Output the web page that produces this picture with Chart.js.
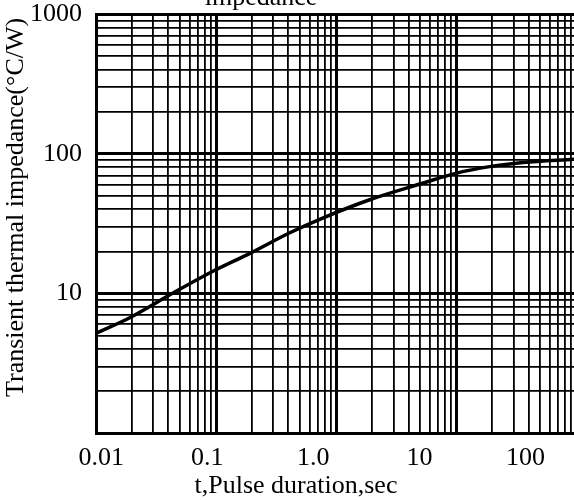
<!DOCTYPE html>
<html>
<head>
<meta charset="utf-8">
<script src="https://cdn.jsdelivr.net/npm/chart.js@4"></script>
<style>
html,body{margin:0;padding:0;background:#fff;overflow:hidden}
#wrap{position:relative;width:574px;height:500px}
</style>
</head>
<body>
<div id="wrap"><canvas id="c"></canvas></div>
<script>
// ---- data ----
const pulseDuration = [0.009, 0.0186, 0.048, 0.113, 0.25, 0.6, 1.24, 3.4, 10.9, 22.4, 46, 95, 287];
const thermalImpedance = [5.2, 6.7, 10.1, 14.4, 19.3, 27.2, 34.8, 46.9, 61.8, 72.8, 81, 86.7, 91.6];

const xTickValues = [0.01, 0.1, 1, 10, 100];
const xTickLabels = ['0.01', '0.1', '1.0', '10', '100'];
const yTickValues = [10, 100, 1000];
const yTickLabels = ['10', '100', '1000'];

const xGridValues = [0.01,0.02,0.03,0.04,0.05,0.06,0.07,0.08,0.09,
                     0.1,0.2,0.3,0.4,0.5,0.6,0.7,0.8,0.9,
                     1,2,3,4,5,6,7,8,9,
                     10,20,30,40,50,60,70,80,90];
const yGridValues = [1,2,3,4,5,6,7,8,9,
                     10,20,30,40,50,60,70,80,90,
                     100,200,300,400,500,600,700,800,900,1000];

const chartTitle = 'impedance';
const xTitle = 't,Pulse duration,sec';
const yTitle = 'Transient thermal impedance(°C/W)';

// ---- chart ----
const FONT = 'Liberation Serif, Times New Roman, serif';
const NB = '\u00a0';
const isDecade = v => Math.abs(Math.log10(v) - Math.round(Math.log10(v))) < 1e-9;
const gridWidth = ctx => (ctx.tick && isDecade(ctx.tick.value)) ? 3 : 1.8;

new Chart(document.getElementById('c'), {
  type: 'line',
  data: {
    datasets: [{
      data: pulseDuration.map((x, i) => ({x: x, y: thermalImpedance[i]})),
      borderColor: '#000',
      borderWidth: 3.5,
      pointRadius: 0,
      fill: false,
      cubicInterpolationMode: 'monotone',
      xAxisID: 'xl',
      yAxisID: 'y'
    }]
  },
  options: {
    responsive: true,
    maintainAspectRatio: false,
    devicePixelRatio: 1,
    animation: false,
    layout: {padding: 0},
    plugins: {
      legend: {display: false},
      tooltip: {enabled: false},
      title: {
        display: true,
        text: chartTitle + NB.repeat(8),
        color: '#000',
        font: {family: FONT, size: 26, weight: 'normal', lineHeight: 1.2},
        padding: {top: -17.25, bottom: 0.05}
      }
    },
    scales: {
      x: {
        type: 'logarithmic',
        position: 'bottom',
        min: 0.01,
        max: 95.68,
        afterBuildTicks: s => { s.ticks = xGridValues.map(v => ({value: v})); },
        afterFit: s => { s.height = 0; },
        ticks: {display: false},
        grid: {color: '#000', lineWidth: gridWidth, drawTicks: false},
        border: {display: true, color: '#000', width: 2}
      },
      xl: {
        type: 'logarithmic',
        position: 'bottom',
        min: 0.00893,
        max: 286.8,
        afterBuildTicks: s => { s.ticks = xTickValues.map(v => ({value: v})); },
        afterFit: s => { s.height = 67; },
        grid: {display: false, drawTicks: false},
        border: {display: false},
        ticks: {
          color: '#000',
          padding: 10,
          autoSkip: false,
          maxRotation: 0,
          font: {family: FONT, size: 26},
          callback: (v, i) => xTickLabels[i]
        },
        title: {
          display: true,
          text: xTitle + NB.repeat(12),
          color: '#000',
          font: {family: FONT, size: 26, lineHeight: 1.2},
          padding: {top: 0, bottom: -2}
        }
      },
      y: {
        type: 'logarithmic',
        position: 'left',
        min: 1,
        max: 1000,
        afterBuildTicks: s => { s.ticks = yGridValues.map(v => ({value: v})); },
        afterFit: s => { s.width = 96; },
        grid: {color: '#000', lineWidth: gridWidth, drawTicks: false},
        border: {display: true, color: '#000', width: 2},
        ticks: {
          color: '#000',
          padding: 14,
          autoSkip: false,
          font: {family: FONT, size: 26, lineHeight: 0.02},
          callback: v => {
            const k = yTickValues.indexOf(v);
            return k >= 0 ? yTickLabels[k] : '';
          }
        },
        title: {
          display: true,
          text: NB.repeat(5) + yTitle,
          color: '#000',
          font: {family: FONT, size: 26, lineHeight: 1.2},
          padding: {top: 1, bottom: 0}
        }
      }
    }
  }
});
</script>
</body>
</html>
